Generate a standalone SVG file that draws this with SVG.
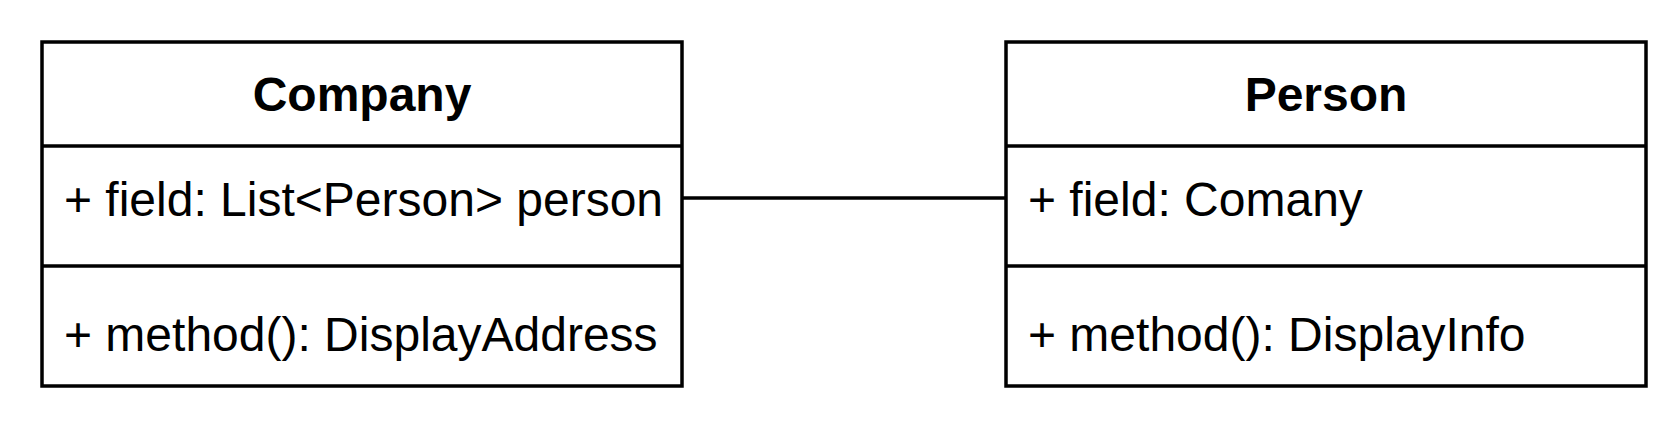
<svg xmlns="http://www.w3.org/2000/svg" width="1675" height="421" viewBox="0 0 1675 421">
<style>
.box{fill:#fff;stroke:#000;stroke-width:3.5}
.ln{stroke:#000;stroke-width:3.5;fill:none}
.t{font-family:"Liberation Sans",Arial,sans-serif;font-size:48px;fill:#000}
.h{font-family:"Liberation Sans",Arial,sans-serif;font-size:48px;font-weight:bold;fill:#000;text-anchor:middle}
</style>
<rect width="1675" height="421" fill="#fff"/>
<g id="connectors">
<line class="ln" x1="682" y1="198" x2="1006" y2="198"/>
</g>
<g id="company">
<rect class="box" x="42" y="42" width="640" height="344"/>
<line class="ln" x1="42" y1="146" x2="682" y2="146"/>
<line class="ln" x1="42" y1="266" x2="682" y2="266"/>
<text class="h" x="362" y="111">Company</text>
<text class="t" x="64" y="216">+ field: List&lt;Person&gt; person</text>
<text class="t" x="64" y="351">+ method(): DisplayAddress</text>
</g>
<g id="person">
<rect class="box" x="1006" y="42" width="640" height="344"/>
<line class="ln" x1="1006" y1="146" x2="1646" y2="146"/>
<line class="ln" x1="1006" y1="266" x2="1646" y2="266"/>
<text class="h" x="1326" y="111">Person</text>
<text class="t" x="1028" y="216">+ field: Comany</text>
<text class="t" x="1028" y="351">+ method(): DisplayInfo</text>
</g>
</svg>
